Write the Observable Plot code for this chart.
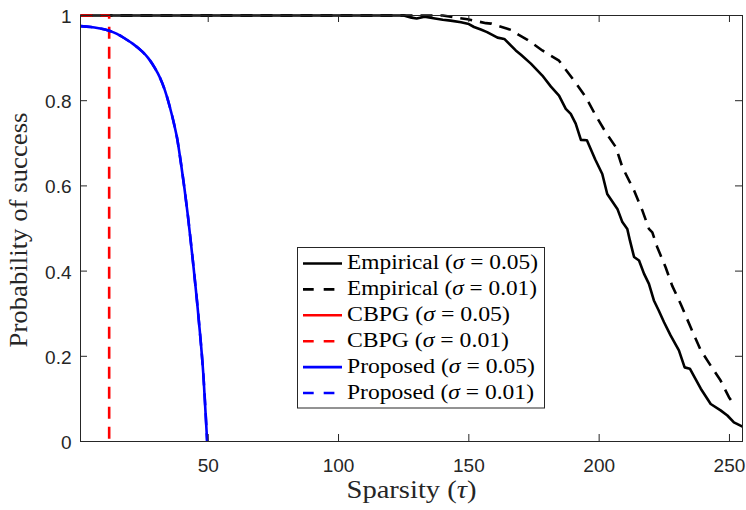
<!DOCTYPE html>
<html>
<head>
<meta charset="utf-8">
<script src="https://cdn.jsdelivr.net/npm/d3@7"></script>
<script src="https://cdn.jsdelivr.net/npm/@observablehq/plot@0.6"></script>
<style>
  html, body { margin: 0; padding: 0; background: white; }
  #wrap { position: relative; width: 746px; height: 510px; }
  #overlay { position: absolute; left: 0; top: 0; pointer-events: none; }
</style>
</head>
<body>
<div id="wrap"></div>
<script>
// ---- data ----
const xTicks = [50, 100, 150, 200, 250];
const yTicks = [0, 0.2, 0.4, 0.6, 0.8, 1];
const yTickLabels = ["0", "0.2", "0.4", "0.6", "0.8", "1"];

const empTau05 = [1, 125, 128, 130, 133, 137, 140, 143, 147, 150, 152, 154.6, 157, 161, 163.6, 168, 170, 173.8, 178.2, 181.5, 184.6, 187.2, 189.1, 191, 193, 195.3, 198.5, 201.2, 203.1, 207, 208.9, 210.8, 211.8, 213.4, 215.3, 217.2, 219.1, 221, 222.9, 224.9, 227.4, 230.6, 232.8, 234.8, 239, 242.8, 246.6, 249.2, 251.7, 255];
const empVal05 = [1, 1, 0.995, 0.993, 0.997, 0.993, 0.99, 0.988, 0.984, 0.98, 0.973, 0.967, 0.961, 0.948, 0.945, 0.918, 0.908, 0.887, 0.859, 0.833, 0.812, 0.781, 0.769, 0.746, 0.708, 0.707, 0.662, 0.628, 0.581, 0.546, 0.515, 0.499, 0.472, 0.433, 0.425, 0.394, 0.37, 0.331, 0.307, 0.28, 0.249, 0.214, 0.174, 0.171, 0.124, 0.088, 0.073, 0.061, 0.045, 0.035];

const empTau01 = [1, 140, 145, 149.5, 152, 156.6, 158.5, 161, 164.8, 166.7, 169, 172.5, 178.2, 184.6, 185.9, 190.4, 194.9, 198.7, 202.5, 206.4, 208.9, 213.4, 216.6, 219.1, 220.4, 222.3, 225.5, 228, 231.5, 235.1, 239, 242.8, 246.6, 249.8, 251.1, 252.4];
const empVal01 = [1, 1, 0.995, 0.991, 0.988, 0.982, 0.981, 0.976, 0.969, 0.965, 0.955, 0.943, 0.918, 0.894, 0.883, 0.847, 0.808, 0.765, 0.726, 0.691, 0.644, 0.589, 0.542, 0.499, 0.491, 0.456, 0.409, 0.366, 0.32, 0.268, 0.214, 0.178, 0.143, 0.104, 0.092, 0.09];

const cbpgTau05 = [1];
const cbpgVal05 = [0];

const cbpgTau01 = [1, 12, 12];
const cbpgVal01 = [1, 1, 0];

const propTau = [1, 5, 8, 11.7, 15, 18, 21, 24.4, 27, 29.5, 31.5, 33.3, 35.2, 37.1, 38, 39.5, 42.2, 44.1, 46.4, 48.2, 49.6];
const propVal05 = [0.975, 0.973, 0.97, 0.965, 0.957, 0.946, 0.934, 0.917, 0.9, 0.877, 0.854, 0.826, 0.787, 0.74, 0.714, 0.655, 0.53, 0.425, 0.284, 0.151, 0];
const propVal01 = [0.975, 0.973, 0.97, 0.965, 0.957, 0.946, 0.934, 0.917, 0.9, 0.877, 0.854, 0.826, 0.787, 0.74, 0.714, 0.655, 0.53, 0.425, 0.284, 0.151, 0];

const seriesNames = ["Empirical", "Empirical", "CBPG", "CBPG", "Proposed", "Proposed"];
const seriesSigma = ["0.05", "0.01", "0.05", "0.01", "0.05", "0.01"];
const seriesColors = ["#000000", "#000000", "#ff0000", "#ff0000", "#0000ff", "#0000ff"];
const seriesDashed = [false, true, false, true, false, true];
const seriesSmooth = [false, false, false, false, true, true];

// ---- build ----
const zip = (t, v) => t.map((d, i) => ({t: d, v: v[i]}));
const series = [
  zip(empTau05, empVal05), zip(empTau01, empVal01),
  zip(cbpgTau05, cbpgVal05), zip(cbpgTau01, cbpgVal01),
  zip(propTau, propVal05), zip(propTau, propVal01)
];

const axisColor = "#262626";
const DASH = "12,8";
const innerW = 746 - 80 - 4, innerH = 510 - 15 - 69;
const tickLen = 7;

const lineMarks = series.map((data, i) => Plot.line(data, {
  x: "t", y: "v", stroke: seriesColors[i], strokeWidth: 2.6,
  curve: seriesSmooth[i] ? "monotone-x" : "linear",
  strokeDasharray: seriesDashed[i] ? DASH : null,
  strokeLinecap: "butt", strokeLinejoin: "round"
}));

const chart = Plot.plot({
  width: 746, height: 510,
  marginLeft: 80, marginRight: 4, marginTop: 15, marginBottom: 69,
  x: {domain: [1, 255]},
  y: {domain: [0, 1]},
  style: {fontFamily: "'Liberation Sans', Arial, sans-serif", fontSize: "19px", color: axisColor, background: "white"},
  marks: [
    ...lineMarks,
    Plot.frame({stroke: axisColor, strokeWidth: 1}),
    Plot.tickX(xTicks, {x: d => d, insetTop: innerH - tickLen, stroke: axisColor}),
    Plot.tickX(xTicks, {x: d => d, insetBottom: innerH - tickLen, stroke: axisColor}),
    Plot.tickY(yTicks, {y: d => d, insetRight: innerW - tickLen, stroke: axisColor}),
    Plot.tickY(yTicks, {y: d => d, insetLeft: innerW - tickLen, stroke: axisColor}),
    Plot.axisX({ticks: xTicks, tickSize: 0, tickPadding: 17, label: null, fill: axisColor}),
    Plot.axisY({ticks: yTicks, tickSize: 0, tickPadding: 9, label: null, fill: axisColor, dy: 1.5,
      tickFormat: d => yTickLabels[yTicks.indexOf(d)]})
  ]
});

const wrap = document.getElementById("wrap");
wrap.appendChild(chart);

// ---- overlay: axis labels and legend ----
const NS = "http://www.w3.org/2000/svg";
const ov = document.createElementNS(NS, "svg");
ov.setAttribute("id", "overlay");
ov.setAttribute("width", 746);
ov.setAttribute("height", 510);
const serif = "'Liberation Serif', 'Times New Roman', serif";

function mkText(parent, attrs, parts) {
  const t = document.createElementNS(NS, "text");
  for (const k in attrs) t.setAttribute(k, attrs[k]);
  for (const p of parts) {
    const s = document.createElementNS(NS, "tspan");
    s.textContent = p.text;
    if (p.italic) s.setAttribute("font-style", "italic");
    t.appendChild(s);
  }
  parent.appendChild(t);
  return t;
}

// y label
mkText(ov, {transform: "translate(27,230) rotate(-90)", "text-anchor": "middle", "font-family": serif,
  "font-size": 25, fill: axisColor, textLength: 235, lengthAdjust: "spacingAndGlyphs"},
  [{text: "Probability of success"}]);
// x label
mkText(ov, {x: 411.5, y: 498, "text-anchor": "middle", "font-family": serif,
  "font-size": 25, fill: axisColor, textLength: 130, lengthAdjust: "spacingAndGlyphs"},
  [{text: "Sparsity ("}, {text: "τ", italic: true}, {text: ")"}]);

// legend
const lg = document.createElementNS(NS, "g");
const box = document.createElementNS(NS, "rect");
box.setAttribute("x", 297.5); box.setAttribute("y", 247.5);
box.setAttribute("width", 247); box.setAttribute("height", 160.5);
box.setAttribute("fill", "white"); box.setAttribute("stroke", axisColor); box.setAttribute("stroke-width", 1);
lg.appendChild(box);
const textWidths = [191, 190, 163, 162, 188, 187];
seriesNames.forEach((name, i) => {
  const cy = 263.5 + 25.9 * i;
  const ln = document.createElementNS(NS, "line");
  ln.setAttribute("x1", 303); ln.setAttribute("x2", 342);
  ln.setAttribute("y1", cy); ln.setAttribute("y2", cy);
  ln.setAttribute("stroke", seriesColors[i]); ln.setAttribute("stroke-width", 2.6);
  if (seriesDashed[i]) ln.setAttribute("stroke-dasharray", "10.7,10");
  lg.appendChild(ln);
  mkText(lg, {x: 347, y: cy + 5.5, "font-family": serif, "font-size": 20, fill: "#000",
    textLength: textWidths[i], lengthAdjust: "spacingAndGlyphs"},
    [{text: name + " ("}, {text: "σ", italic: true}, {text: " = " + seriesSigma[i] + ")"}]);
});
ov.appendChild(lg);
wrap.appendChild(ov);
</script>
</body>
</html>
